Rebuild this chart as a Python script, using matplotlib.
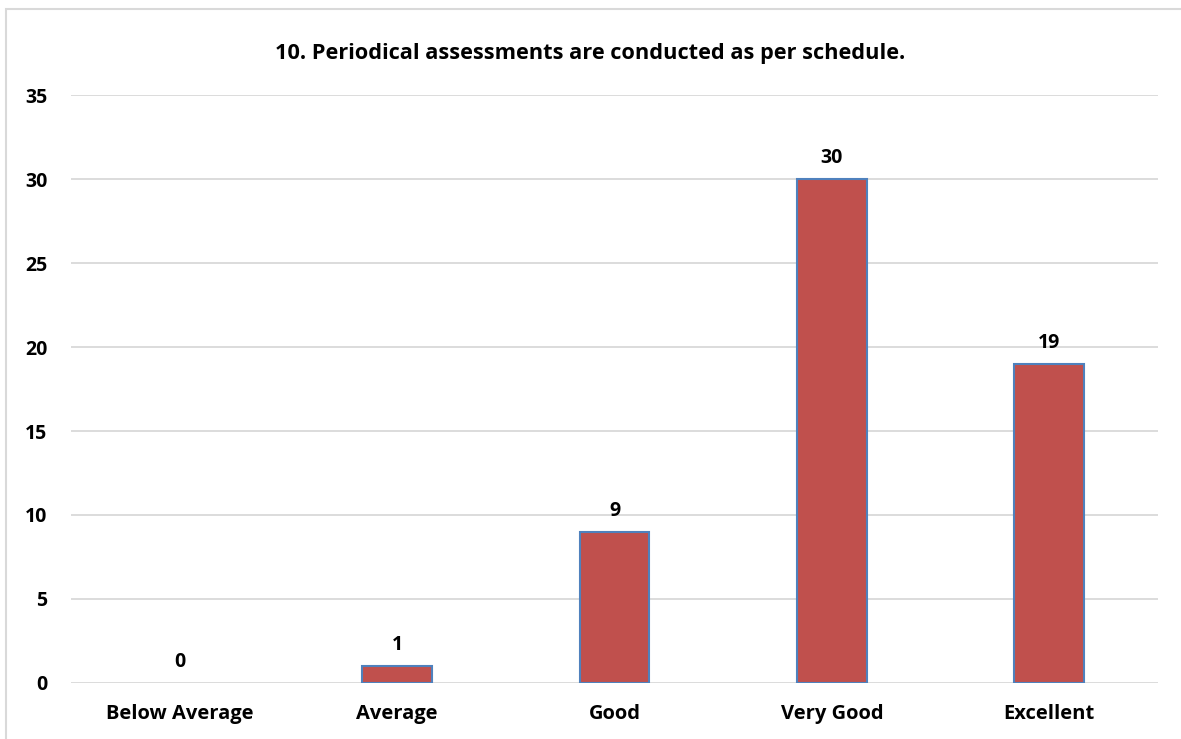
import matplotlib
matplotlib.use('Agg')
import matplotlib.pyplot as plt
from matplotlib.patches import Rectangle

# Data
categories = ['Below Average', 'Average', 'Good', 'Very Good', 'Excellent']
counts = [0, 1, 9, 30, 19]
title = '10. Periodical assessments are conducted as per schedule.'

bar_color = '#C0504D'
edge_color = '#4F81BD'
grid_color = '#D9D9D9'

plt.rcParams['font.family'] = ['Open Sans', 'DejaVu Sans']

fig = plt.figure(figsize=(11.81, 7.39), dpi=100)
ax = fig.add_axes([0.0601, 0.0758, 0.9204, 0.7956])

x = range(len(categories))
bars = ax.bar(x, counts, width=0.32, color=bar_color, edgecolor=edge_color,
              linewidth=1.5, zorder=3)
for b, v in zip(bars, counts):
    if v == 0:
        b.set_linewidth(0)

for xi, v in zip(x, counts):
    ax.annotate(str(v), (xi, v), xytext=(0, 8), textcoords='offset points',
                ha='center', va='bottom', fontsize=14, fontweight='bold')

ax.set_xlim(-0.5, len(categories) - 0.5)
ax.set_ylim(0, 35)
ax.set_yticks(range(0, 36, 5))
ax.set_xticks(list(x))
ax.set_xticklabels(categories, fontsize=14.5, fontweight='bold')
for lbl in ax.get_yticklabels():
    lbl.set_fontsize(14)
    lbl.set_fontweight('bold')
ax.tick_params(axis='both', length=0)
ax.tick_params(axis='y', pad=17)
ax.tick_params(axis='x', pad=15)
ax.yaxis.grid(True, color=grid_color, linewidth=1.3, zorder=0)
ax.set_axisbelow(True)
for s in ax.spines.values():
    s.set_visible(False)

fig.text(0.5, 0.928, title, ha='center', va='center', fontsize=15.7,
         fontweight='bold')

# outer chart border
border = Rectangle((6 / 1181, -0.1), 1.2, 1 - 9 / 739 + 0.1,
                   transform=fig.transFigure, fill=False,
                   edgecolor='#D9D9D9', linewidth=1.5)
fig.patches.append(border)

fig.savefig('out.png', dpi=100, facecolor='white')
